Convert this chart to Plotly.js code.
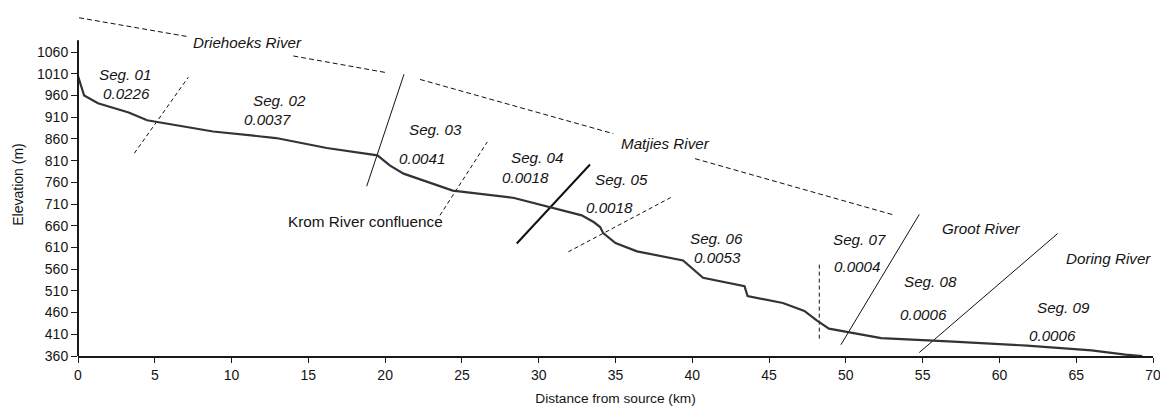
<!DOCTYPE html>
<html><head><meta charset="utf-8">
<script src="https://cdn.plot.ly/plotly-3.0.1.min.js"></script>
<style>html,body{margin:0;padding:0;background:#fff}#chart{width:1160px;height:406px}</style>
</head><body><div id="chart"></div>
<script>
// Longitudinal profile (distance km, elevation m)
const distanceKm = [0, 0.4, 1.3, 3.3, 4.5, 8.8, 12.9, 16.2, 19.5, 20.3, 21.2, 24.4, 28.4, 30.9, 32.8, 33.6, 34.0, 34.2, 35.0, 36.4, 39.4, 40.7, 43.4, 43.6, 45.9, 47.3, 48.1, 48.9, 52.3, 57.0, 61.8, 66.0, 68.2, 69.3];
const elevationM = [1005, 960, 942, 921, 903, 877, 862, 839, 822, 799, 780, 741, 724, 701, 684, 668, 657, 643, 620, 601, 580, 540, 521, 498, 482, 464, 442, 423, 401, 393, 384, 373, 363, 360];

const xTickVals = [0, 5, 10, 15, 20, 25, 30, 35, 40, 45, 50, 55, 60, 65, 70];
const yTickVals = [360, 410, 460, 510, 560, 610, 660, 710, 760, 810, 860, 910, 960, 1010, 1060];

// Tributary reference lines (dashed)
const driehoeksX = [0.07, 7.08, null, 14.02, 20.1];
const driehoeksY = [1139, 1096, null, 1051, 1012.5];
const matjiesX = [22.27, 34.86, null, 40.18, 53.2];
const matjiesY = [997, 872, null, 814.5, 684];

// Segment dividers
const div0102X = [3.67, 7.18], div0102Y = [827, 1002];
const div0203X = [18.8, 21.23], div0203Y = [751, 1009];
const div0304X = [23.57, 26.65], div0304Y = [684, 853];
const div0405X = [28.57, 33.34], div0405Y = [619, 801];
const div0506X = [31.93, 38.6], div0506Y = [600, 725];
const div0607X = [48.27, 48.27], div0607Y = [400, 576];
const div0708X = [49.68, 54.78], div0708Y = [386, 686];
const div0809X = [54.78, 63.79], div0809Y = [368, 642];

// Labels
const segLabels = ['Seg. 01', 'Seg. 02', 'Seg. 03', 'Seg. 04', 'Seg. 05', 'Seg. 06', 'Seg. 07', 'Seg. 08', 'Seg. 09'];
const segLabelX = [3.05, 13.15, 23.3, 29.89, 35.42, 41.56, 50.86, 55.53, 64.16];
const segLabelY = [1008.6, 949, 881, 816.8, 766.2, 631.7, 628, 532, 472.8];
const slopeLabels = ['0.0226', '0.0037', '0.0041', '0.0018', '0.0018', '0.0053', '0.0004', '0.0006', '0.0006'];
const slopeX = [3.13, 12.34, 22.4, 29.15, 34.64, 41.61, 50.73, 55.08, 63.46];
const slopeY = [964, 905, 814.5, 770.8, 703, 588, 565, 456, 407.7];
const riverNames = ['Driehoeks River', 'Matjies River', 'Groot River', 'Doring River'];
const riverX = [11.04, 38.24, 58.86, 67.09];
const riverY = [1083, 850.4, 653.3, 585.6];
const confluenceLabel = 'Krom River confluence';
const confluenceX = 18.71, confluenceY = 670.8;

const FONT = 'Liberation Sans, Arial, sans-serif';
const INK = '#141414';

function lineTrace(x, y, width, dash, color) {
  return {x: x, y: y, type: 'scatter', mode: 'lines', connectgaps: false, hoverinfo: 'skip',
    line: {color: color || '#111', width: width, dash: dash || 'solid'}, showlegend: false};
}

const traces = [
  lineTrace(driehoeksX, driehoeksY, 1, '5px,3px'),
  lineTrace(matjiesX, matjiesY, 1, '5px,3px'),
  lineTrace(div0102X, div0102Y, 1, '4px,3px'),
  lineTrace(div0203X, div0203Y, 1),
  lineTrace(div0304X, div0304Y, 1, '4px,3px'),
  lineTrace(div0405X, div0405Y, 2),
  lineTrace(div0506X, div0506Y, 1, '4px,3px'),
  lineTrace(div0607X, div0607Y, 1, '4px,3px'),
  lineTrace(div0708X, div0708Y, 1),
  lineTrace(div0809X, div0809Y, 1),
  {x: distanceKm, y: elevationM, type: 'scatter', mode: 'lines', name: 'Profile',
   line: {color: '#333333', width: 2.2}, showlegend: false}
];

const annotations = [];
function addText(text, x, y, italic, size) {
  annotations.push({text: text, x: x, y: y, xref: 'x', yref: 'y', showarrow: false,
    xanchor: 'center', yanchor: 'middle',
    font: {family: FONT, size: size, color: INK, style: italic ? 'italic' : 'normal'}});
}
segLabels.forEach((t, i) => addText(t, segLabelX[i], segLabelY[i], true, 15.2));
slopeLabels.forEach((t, i) => addText(t, slopeX[i], slopeY[i], true, 15.2));
riverNames.forEach((t, i) => addText(t, riverX[i], riverY[i], true, 15.2));
addText(confluenceLabel, confluenceX, confluenceY, false, 15.3);

const layout = {
  width: 1160, height: 406,
  margin: {l: 78, r: 7, t: 13, b: 50},
  paper_bgcolor: '#fff', plot_bgcolor: '#fff',
  font: {family: FONT, color: INK},
  showlegend: false,
  xaxis: {
    range: [0, 70], tickvals: xTickVals, ticktext: xTickVals.map(String),
    ticklabeloverflow: 'allow',
    showgrid: false, zeroline: false,
    showline: true, linecolor: '#1a1a1a', linewidth: 2,
    ticks: 'outside', ticklen: 5, tickwidth: 1, tickcolor: '#1a1a1a',
    tickfont: {family: FONT, size: 14, color: INK},
    title: {text: 'Distance from source (km)', font: {family: FONT, size: 13.7, color: INK}, standoff: 12}
  },
  yaxis: {
    range: [360, 1150], tickvals: yTickVals, ticktext: yTickVals.map(String),
    showgrid: false, zeroline: false, showline: false,
    ticks: 'outside', ticklen: 6, tickwidth: 1, tickcolor: '#1a1a1a',
    tickfont: {family: FONT, size: 14, color: INK},
    title: {text: 'Elevation (m)', font: {family: FONT, size: 14, color: INK}, standoff: 10}
  },
  shapes: [{type: 'line', xref: 'paper', x0: 0, x1: 0, yref: 'y', y0: 360, y1: 1087,
    line: {color: '#1a1a1a', width: 2}}],
  annotations: annotations
};

Plotly.newPlot('chart', traces, layout, {displayModeBar: false, staticPlot: true});
</script>
</body></html>
